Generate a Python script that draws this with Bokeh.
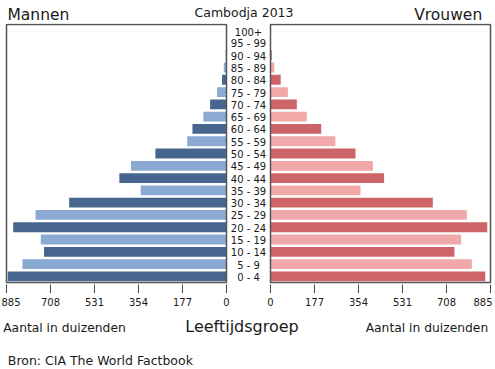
from bokeh.plotting import figure
from bokeh.layouts import column
from bokeh.models import ColumnDataSource, Range1d, FixedTicker, CustomJSTickFormatter
from bokeh.core.properties import value
from bokeh.embed import file_html
from bokeh.resources import INLINE

# ---- data (thousands) ----
age_groups = ["0 - 4", "5 - 9", "10 - 14", "15 - 19", "20 - 24", "25 - 29", "30 - 34",
              "35 - 39", "40 - 44", "45 - 49", "50 - 54", "55 - 59", "60 - 64", "65 - 69",
              "70 - 74", "75 - 79", "80 - 84", "85 - 89", "90 - 94", "95 - 99", "100+"]
men = [880, 821, 734, 747, 858, 768, 633, 345, 431, 384, 286, 158, 137, 93, 66, 38, 18, 11, 3, 1, 0.3]
women = [864, 810, 740, 767, 872, 790, 653, 362, 457, 412, 342, 261, 204, 146, 106, 70, 41, 15, 5, 2, 1]
tick_values = [0, 177, 354, 531, 708, 885]
max_val = 885

# ---- layout helpers ----
W = 495
TOP_H, MAIN_FRAME_H, TICK_H, BOT_H = 23, 261, 9, 76
S = 220 / max_val          # px per thousand
CX = 248                   # px of centre of figure
G = 22 / S                 # half gap between panels, data units
DY = -4.2                  # baseline correction
def px(xp):
    return (xp - CX) / S

FONT = "DejaVu Sans"
TXT = "#1a1a1a"
men_dark, men_light = "#46668f", "#8aaad3"
wom_dark, wom_light = "#cd6568", "#f1a8a9"

xr = Range1d(px(0), px(W))

def bare(fig):
    fig.title.visible = False
    fig.xgrid.visible = False
    fig.ygrid.visible = False
    fig.outline_line_color = None
    fig.background_fill_color = "white"
    fig.border_fill_color = "white"
    return fig

# ---- top strip with titles ----
top = bare(figure(width=W, height=TOP_H, x_range=xr, y_range=Range1d(TOP_H, 0),
                  output_backend="svg", toolbar_location=None,
                  x_axis_location=None, y_axis_location=None, min_border=0))
top.text(x=[px(7)], y=[18.3 + DY], text=["Mannen"], text_align="left", text_baseline="alphabetic",
         text_font=value(FONT), text_font_size="15.5px", text_color=TXT)
top.text(x=[px(243.5)], y=[16.0 + DY], text=["Cambodja 2013"], text_align="center", text_baseline="alphabetic",
         text_font=value(FONT), text_font_size="12.5px", text_color=TXT)
top.text(x=[px(481.7)], y=[18.3 + DY], text=["Vrouwen"], text_align="right", text_baseline="alphabetic",
         text_font=value(FONT), text_font_size="15.5px", text_color=TXT)

# ---- main pyramid ----
rows = list(range(len(age_groups)))
src = ColumnDataSource(dict(
    y=rows,
    label=age_groups,
    mleft=[-(G + v) for v in men],
    mright=[-G] * len(rows),
    wleft=[G] * len(rows),
    wright=[G + v for v in women],
    mcol=[men_dark if i % 2 == 0 else men_light for i in rows],
    wcol=[wom_dark if i % 2 == 0 else wom_light for i in rows],
))

p = bare(figure(width=W, height=MAIN_FRAME_H + TICK_H, x_range=xr, y_range=Range1d(-0.66, 20.58),
                output_backend="svg", toolbar_location=None, y_axis_location=None,
                min_border_left=0, min_border_right=0, min_border_top=0, min_border_bottom=TICK_H))

p.hbar(y="y", left="mleft", right="mright", height=0.8, fill_color="mcol", line_color=None, source=src)
p.hbar(y="y", left="wleft", right="wright", height=0.8, fill_color="wcol", line_color=None, source=src)

p.quad(left=[-(G + max_val), G], right=[-G, G + max_val], bottom=[-0.5, -0.5], top=[20.5, 20.5],
       fill_color=None, line_color="#555555", line_width=1.5)

p.text(x=0, y="y", text="label", source=src, text_align="center", text_baseline="middle",
       y_offset=1, text_font=value(FONT), text_font_size="10px", text_color=TXT)

ax = p.xaxis[0]
ax.ticker = FixedTicker(ticks=[-(G + v) for v in tick_values] + [G + v for v in tick_values])
ax.formatter = CustomJSTickFormatter(code="return '';")
ax.axis_line_color = None
ax.major_tick_in = 0
ax.major_tick_out = TICK_H
ax.major_tick_line_color = "#444444"
ax.minor_tick_in = 0
ax.minor_tick_out = 0
ax.major_label_standoff = 0
ax.major_label_text_font_size = "0px"

# ---- bottom strip: tick labels and captions ----
y0 = TOP_H + MAIN_FRAME_H + TICK_H
bot = bare(figure(width=W, height=BOT_H, x_range=xr, y_range=Range1d(y0 + BOT_H, y0),
                  output_backend="svg", toolbar_location=None,
                  x_axis_location=None, y_axis_location=None, min_border=0))

tick_x = [-(G + v) for v in tick_values] + [G + v for v in tick_values]
tick_txt = [str(v) for v in tick_values] * 2
tick_align = ["left" if v == max_val else "center" for v in tick_values] + \
             ["right" if v == max_val else "center" for v in tick_values]
tick_off = [-5 if v == max_val else 0 for v in tick_values] + [2 if v == max_val else 0 for v in tick_values]
bot.text(x=tick_x, y=[305.7 + DY] * len(tick_x), text=tick_txt, text_align=tick_align, x_offset=tick_off,
         text_baseline="alphabetic", text_font=value(FONT), text_font_size="10px", text_color=TXT)

bot.text(x=[px(2.7)], y=[331.7 + DY], text=["Aantal in duizenden"], text_align="left", text_baseline="alphabetic",
         text_font=value(FONT), text_font_size="12.3px", text_color=TXT)
bot.text(x=[px(241.5)], y=[330.0 + DY], text=["Leeftijdsgroep"], text_align="center", text_baseline="alphabetic",
         text_font=value(FONT), text_font_size="16px", text_color=TXT)
bot.text(x=[px(487.7)], y=[331.7 + DY], text=["Aantal in duizenden"], text_align="right", text_baseline="alphabetic",
         text_font=value(FONT), text_font_size="12.3px", text_color=TXT)
bot.text(x=[px(7.3)], y=[364.0 + DY], text=["Bron: CIA The World Factbook"], text_align="left",
         text_baseline="alphabetic", text_font=value(FONT), text_font_size="12.5px", text_color=TXT)

layout = column(top, p, bot, spacing=0)
open("out.html", "w").write(file_html(layout, INLINE))
